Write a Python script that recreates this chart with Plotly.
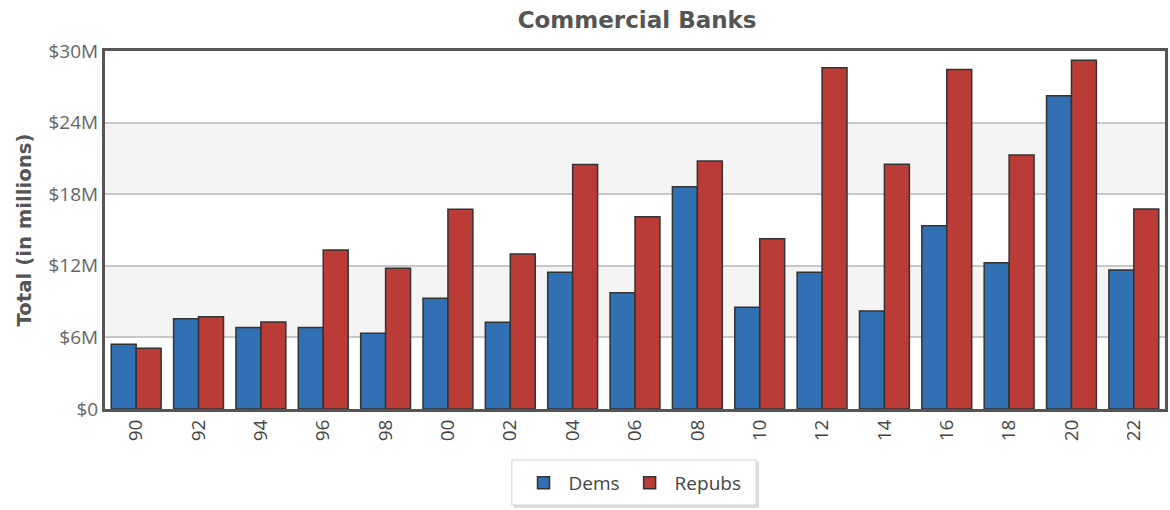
import plotly.graph_objects as go

years = ["90", "92", "94", "96", "98", "00", "02", "04", "06", "08",
         "10", "12", "14", "16", "18", "20", "22"]
dems = [5.42, 7.57, 6.82, 6.82, 6.35, 9.28, 7.27, 11.46, 9.75, 18.63,
        8.52, 11.46, 8.21, 15.36, 12.26, 26.26, 11.65]
repubs = [5.09, 7.74, 7.29, 13.33, 11.8, 16.74, 12.99, 20.48, 16.12, 20.79,
          14.27, 28.6, 20.51, 28.44, 21.29, 29.23, 16.76]
tick_vals = [0, 6, 12, 18, 24, 30]
tick_text = ["$0", "$6M", "$12M", "$18M", "$24M", "$30M"]
bands = [(6, 12), (18, 24)]

W, H = 1170, 510
L, R, T, B = 105, 2, 51, 101
pw, ph = W - L - R, H - T - B


def px_x(x):
    return (x - L) / pw


def px_y(y):
    return (H - B - y) / ph


fig = go.Figure()
fig.add_trace(go.Bar(x=years, y=dems, name="Dems",
                     marker=dict(color="#3070b3", line=dict(color="#333333", width=1.5))))
fig.add_trace(go.Bar(x=years, y=repubs, name="Repubs",
                     marker=dict(color="#bb3b37", line=dict(color="#333333", width=1.5))))

for lo, hi in bands:
    fig.add_shape(type="rect", xref="paper", x0=0, x1=1, yref="y", y0=lo, y1=hi,
                  fillcolor="#f4f4f4", line=dict(width=0), layer="below")

# legend box with soft shadow
fig.add_shape(type="rect", xref="paper", yref="paper",
              x0=px_x(515), x1=px_x(761), y0=px_y(462), y1=px_y(508),
              fillcolor="#dcdcdc", line=dict(width=0), layer="above")
fig.add_shape(type="rect", xref="paper", yref="paper",
              x0=px_x(513), x1=px_x(758), y0=px_y(460), y1=px_y(505),
              fillcolor="white", line=dict(color="#d4d4d4", width=1), layer="above")

fig.update_layout(
    width=W, height=H,
    margin=dict(l=L, r=R, t=T, b=B),
    paper_bgcolor="white", plot_bgcolor="white",
    barmode="group", bargap=0.2, bargroupgap=0,
    title=dict(text="Commercial Banks", x=0.502, xref="paper", xanchor="center",
               y=1 - 20 / H, yanchor="middle",
               font=dict(family="DejaVu Sans", size=23, color="#555555", weight="bold")),
    font=dict(family="Open Sans", color="#555555"),
    showlegend=True,
    legend=dict(orientation="h", x=px_x(634), xanchor="center", y=px_y(483), yanchor="middle",
                borderwidth=0, bgcolor="rgba(0,0,0,0)",
                font=dict(family="Open Sans", size=19, color="#444444"),
                itemwidth=40),
    xaxis=dict(type="category", tickangle=-90, ticks="", showgrid=False,
               tickfont=dict(family="Open Sans", size=19, color="#444444"),
               showline=True, linecolor="#555555", linewidth=3, mirror=True),
    yaxis=dict(range=[0, 30], tickvals=tick_vals, ticktext=tick_text,
               showgrid=True, gridcolor="#c8c8c8", gridwidth=1.5, zeroline=False,
               tickfont=dict(family="Open Sans", size=19, color="#666666"),
               showline=True, linecolor="#555555", linewidth=3, mirror=True,
               title=dict(text="Total (in millions)", standoff=12,
                          font=dict(family="DejaVu Sans", size=19.7, color="#555555", weight="bold"))),
)

fig.write_html("out.html", config={"displayModeBar": False},
               post_script="document.body.style.margin='0';")
